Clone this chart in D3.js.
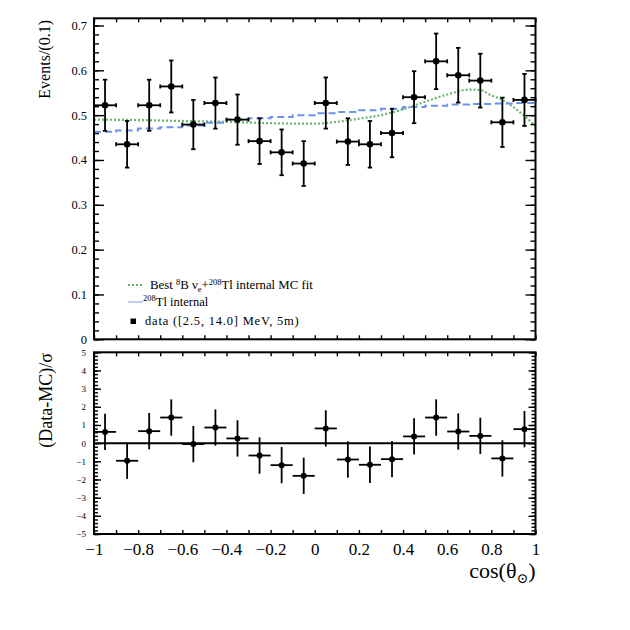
<!DOCTYPE html>
<html>
<head>
<meta charset="utf-8">
<script src="https://cdn.jsdelivr.net/npm/d3@7"></script>
<style>
  body { margin: 0; background: #fff; }
  text { font-family: 'Liberation Serif', 'DejaVu Serif', serif; fill: #000; }
</style>
</head>
<body>
<svg id="chart"></svg>
<script>
// cos(theta_sun) bins, width 0.1
const binCenters = [-0.95, -0.85, -0.75, -0.65, -0.55, -0.45, -0.35, -0.25, -0.15, -0.05,
                    0.05, 0.15, 0.25, 0.35, 0.45, 0.55, 0.65, 0.75, 0.85, 0.95];
const binHalfWidth = 0.05;

// data points (top panel)
const dataValues = [0.522, 0.435, 0.522, 0.564, 0.479, 0.527, 0.490, 0.442, 0.417, 0.392,
                    0.527, 0.441, 0.435, 0.460, 0.540, 0.620, 0.589, 0.577, 0.484, 0.534];
const dataErrors = [0.057, 0.052, 0.057, 0.058, 0.055, 0.057, 0.056, 0.051, 0.051, 0.050,
                    0.057, 0.052, 0.052, 0.054, 0.058, 0.062, 0.061, 0.060, 0.055, 0.058];

// 208Tl internal histogram
const tlValues = [0.463, 0.466, 0.470, 0.473, 0.477, 0.483, 0.490, 0.493, 0.496, 0.500,
                  0.504, 0.507, 0.511, 0.514, 0.518, 0.521, 0.524, 0.525, 0.526, 0.527];

// best fit 8B + 208Tl curve
const fitX = [-1, -0.8, -0.6, -0.4, -0.2, 0, 0.1, 0.2, 0.3, 0.4, 0.5, 0.6, 0.7, 0.75, 0.8, 0.85, 0.9, 0.95, 1];
const fitY = [0.490, 0.489, 0.487, 0.485, 0.482, 0.481, 0.485, 0.492, 0.500, 0.513, 0.530, 0.546, 0.557, 0.556, 0.544, 0.534, 0.518, 0.498, 0.476];

// residuals (bottom panel)
const pullValues = [0.62, -0.97, 0.66, 1.41, -0.05, 0.86, 0.26, -0.68, -1.21, -1.80,
                    0.81, -0.90, -1.19, -0.88, 0.37, 1.41, 0.64, 0.40, -0.84, 0.77];
const pullErrors = [1, 1, 1, 1, 1, 1, 1, 1, 1, 1, 1, 1, 1, 1, 1, 1, 1, 1, 1, 1];

// tick values
const xTicks = [-1, -0.8, -0.6, -0.4, -0.2, 0, 0.2, 0.4, 0.6, 0.8, 1];
const topYTicks = [0, 0.1, 0.2, 0.3, 0.4, 0.5, 0.6, 0.7];
const bottomYTicks = [-5, -4, -3, -2, -1, 0, 1, 2, 3, 4, 5];

const FONT = "'Liberation Serif', 'DejaVu Serif', serif";

class CosThetaChart {

  constructor(_config) {
    this.config = {
      parentElement: _config.parentElement,
      containerWidth: 630,
      containerHeight: 630,
      frameLeft: 94,
      frameRight: 535.5,
      topPanel: { top: 18.3, bottom: 339.3 },
      bottomPanel: { top: 352.3, bottom: 534 }
    };
    this.initVis();
  }

  initVis() {
    let vis = this;
    const c = vis.config;

    vis.svg = d3.select(c.parentElement)
      .attr('width', c.containerWidth)
      .attr('height', c.containerHeight);

    vis.svg.append('rect')
      .attr('width', c.containerWidth)
      .attr('height', c.containerHeight)
      .attr('fill', '#fff');

    // Scales
    vis.xScale = d3.scaleLinear().domain([-1, 1]).range([c.frameLeft, c.frameRight]);
    vis.yTop = d3.scaleLinear().domain([0, 0.716]).range([c.topPanel.bottom, c.topPanel.top]);
    vis.yBottom = d3.scaleLinear().domain([-5, 5]).range([c.bottomPanel.bottom, c.bottomPanel.top]);

    vis.renderVis();
  }

  // Ticks pointing inward on all four sides of a panel
  drawFrame(yScale, panel, yMajor, yMinor, majorLen, minorLen, fmt, labelSize, labelPad, showX) {
    let vis = this;
    const c = vis.config;

    const styleAxis = g => g
      .attr('font-family', FONT)
      .attr('font-size', labelSize)
      .call(g => g.select('.domain').remove())
      .call(g => g.selectAll('line').attr('stroke-width', 1.4));

    vis.svg.append('g')
      .attr('transform', `translate(${c.frameLeft},0)`)
      .call(d3.axisLeft(yScale).tickValues(yMinor).tickSize(-minorLen).tickFormat(''))
      .call(styleAxis);
    vis.svg.append('g')
      .attr('transform', `translate(${c.frameLeft},0)`)
      .call(d3.axisLeft(yScale).tickValues(yMajor).tickSize(-majorLen).tickPadding(labelPad).tickFormat(fmt))
      .call(styleAxis);
    vis.svg.append('g')
      .attr('transform', `translate(${c.frameRight},0)`)
      .call(d3.axisRight(yScale).tickValues(yMinor).tickSize(-minorLen).tickFormat(''))
      .call(styleAxis);
    vis.svg.append('g')
      .attr('transform', `translate(${c.frameRight},0)`)
      .call(d3.axisRight(yScale).tickValues(yMajor).tickSize(-majorLen).tickFormat(''))
      .call(styleAxis);

    const xMinor = d3.range(-10, 11).map(d => d / 10);
    vis.svg.append('g')
      .attr('transform', `translate(0,${panel.top})`)
      .call(d3.axisTop(vis.xScale).tickValues(xMinor).tickSize(-4).tickFormat(''))
      .call(styleAxis);
    vis.svg.append('g')
      .attr('transform', `translate(0,${panel.bottom})`)
      .call(d3.axisBottom(vis.xScale).tickValues(xMinor).tickSize(-4).tickFormat(''))
      .call(styleAxis);

    if (showX) {
      vis.svg.append('g')
        .attr('transform', `translate(0,${panel.bottom})`)
        .call(d3.axisBottom(vis.xScale).tickValues(xTicks).tickSize(0).tickPadding(9)
          .tickFormat(d => Number.isInteger(d) ? d3.format('d')(d) : d3.format('.1f')(d)))
        .attr('font-family', FONT)
        .attr('font-size', 17)
        .call(g => g.select('.domain').remove());
    }

    vis.svg.append('rect')
      .attr('x', c.frameLeft)
      .attr('y', panel.top)
      .attr('width', c.frameRight - c.frameLeft)
      .attr('height', panel.bottom - panel.top)
      .attr('fill', 'none')
      .attr('stroke', '#000')
      .attr('stroke-width', 2);
  }

  renderVis() {
    let vis = this;
    const c = vis.config;

    // ---- top panel ----
    const fitLine = d3.line()
      .x((d, i) => vis.xScale(fitX[i]))
      .y(d => vis.yTop(d))
      .curve(d3.curveMonotoneX);

    vis.svg.append('path')
      .datum(fitY)
      .attr('d', fitLine)
      .attr('fill', 'none')
      .attr('stroke', '#6cb36c')
      .attr('stroke-width', 2.2)
      .attr('stroke-dasharray', '2,2');

    // step histogram for 208Tl
    const tlPoints = tlValues.map((v, i) => [binCenters[i] - binHalfWidth, v]);
    tlPoints.push([1, tlValues[tlValues.length - 1]]);
    vis.svg.append('path')
      .datum(tlPoints)
      .attr('d', d3.line()
        .x(d => vis.xScale(d[0]))
        .y(d => vis.yTop(d[1]))
        .curve(d3.curveStepAfter))
      .attr('fill', 'none')
      .attr('stroke', '#6d92ee')
      .attr('stroke-width', 2)
      .attr('stroke-dasharray', '7,4');

    vis.drawFrame(vis.yTop, c.topPanel, topYTicks, d3.range(0, 36).map(d => d / 50), 10, 5,
      d => d === 0 ? '0' : d3.format('.1f')(d), 12.5, 7, false);

    const topPts = vis.svg.append('g').selectAll('.pt')
      .data(dataValues)
      .join('g')
      .attr('class', 'pt')
      .attr('stroke', '#000')
      .attr('stroke-width', 1.8);

    topPts.append('line')
      .attr('x1', (d, i) => vis.xScale(binCenters[i] - binHalfWidth))
      .attr('x2', (d, i) => vis.xScale(binCenters[i] + binHalfWidth))
      .attr('y1', d => vis.yTop(d))
      .attr('y2', d => vis.yTop(d));
    topPts.append('line')
      .attr('x1', (d, i) => vis.xScale(binCenters[i]))
      .attr('x2', (d, i) => vis.xScale(binCenters[i]))
      .attr('y1', (d, i) => vis.yTop(d + dataErrors[i]))
      .attr('y2', (d, i) => vis.yTop(d - dataErrors[i]));
    // end caps
    [-1, 1].forEach(s => {
      topPts.append('line')
        .attr('x1', (d, i) => vis.xScale(binCenters[i] + s * binHalfWidth))
        .attr('x2', (d, i) => vis.xScale(binCenters[i] + s * binHalfWidth))
        .attr('y1', d => vis.yTop(d) - 2)
        .attr('y2', d => vis.yTop(d) + 2);
      topPts.append('line')
        .attr('x1', (d, i) => vis.xScale(binCenters[i]) - 2.2)
        .attr('x2', (d, i) => vis.xScale(binCenters[i]) + 2.2)
        .attr('y1', (d, i) => vis.yTop(d + s * dataErrors[i]))
        .attr('y2', (d, i) => vis.yTop(d + s * dataErrors[i]));
    });
    topPts.append('circle')
      .attr('cx', (d, i) => vis.xScale(binCenters[i]))
      .attr('cy', d => vis.yTop(d))
      .attr('r', 3.3)
      .attr('fill', '#000')
      .attr('stroke', 'none');

    // Legend
    const legend = vis.svg.append('g');
    legend.append('line')
      .attr('x1', 128).attr('x2', 143).attr('y1', 285).attr('y2', 285)
      .attr('stroke', '#6cb36c').attr('stroke-width', 2).attr('stroke-dasharray', '2,2');
    const t1 = legend.append('text').attr('x', 150).attr('y', 289).attr('font-size', 12.8);
    t1.append('tspan').text('Best ');
    t1.append('tspan').attr('font-size', 8.5).attr('dy', -4.5).text('8');
    t1.append('tspan').attr('dy', 4.5).text('B ν');
    t1.append('tspan').attr('font-size', 8.5).attr('dy', 3).text('e');
    t1.append('tspan').attr('dy', -3).text('+');
    t1.append('tspan').attr('font-size', 8.5).attr('dy', -4.5).text('208');
    t1.append('tspan').attr('dy', 4.5).text('Tl internal MC fit');

    legend.append('line')
      .attr('x1', 128).attr('x2', 143).attr('y1', 302).attr('y2', 302)
      .attr('stroke', '#7da0f0').attr('stroke-width', 1);
    const t2 = legend.append('text').attr('x', 143).attr('y', 305.5).attr('font-size', 12.5);
    t2.append('tspan').attr('font-size', 8.5).attr('dy', -4.5).text('208');
    t2.append('tspan').attr('dy', 4.5).text('Tl internal');

    legend.append('rect')
      .attr('x', 130.5).attr('y', 318.5).attr('width', 5.5).attr('height', 5.5)
      .attr('fill', '#000');
    legend.append('text').attr('x', 145).attr('y', 324.5)
      .attr('font-size', 12.5)
      .attr('letter-spacing', 0.8)
      .text('data ([2.5, 14.0] MeV, 5m)');

    // ---- bottom panel ----
    vis.svg.append('line')
      .attr('x1', c.frameLeft).attr('x2', c.frameRight)
      .attr('y1', vis.yBottom(0)).attr('y2', vis.yBottom(0))
      .attr('stroke', '#000')
      .attr('stroke-width', 2);

    vis.drawFrame(vis.yBottom, c.bottomPanel, bottomYTicks, d3.range(-25, 26).map(d => d / 5), 7, 4,
      d => d3.format('d')(d), 9, 8, true);

    const botPts = vis.svg.append('g').selectAll('.pull')
      .data(pullValues)
      .join('g')
      .attr('class', 'pull')
      .attr('stroke', '#000')
      .attr('stroke-width', 1.8);
    botPts.append('line')
      .attr('x1', (d, i) => vis.xScale(binCenters[i] - binHalfWidth))
      .attr('x2', (d, i) => vis.xScale(binCenters[i] + binHalfWidth))
      .attr('y1', d => vis.yBottom(d))
      .attr('y2', d => vis.yBottom(d));
    botPts.append('line')
      .attr('x1', (d, i) => vis.xScale(binCenters[i]))
      .attr('x2', (d, i) => vis.xScale(binCenters[i]))
      .attr('y1', (d, i) => vis.yBottom(d + pullErrors[i]))
      .attr('y2', (d, i) => vis.yBottom(d - pullErrors[i]));
    botPts.append('circle')
      .attr('cx', (d, i) => vis.xScale(binCenters[i]))
      .attr('cy', d => vis.yBottom(d))
      .attr('r', 3)
      .attr('fill', '#000')
      .attr('stroke', 'none');

    // ---- axis titles ----
    vis.svg.append('text')
      .attr('transform', 'translate(50,20) rotate(-90)')
      .attr('text-anchor', 'end')
      .attr('font-size', 16)
      .text('Events/(0.1)');

    vis.svg.append('text')
      .attr('transform', 'translate(52,353) rotate(-90)')
      .attr('text-anchor', 'end')
      .attr('font-size', 18)
      .text('(Data-MC)/σ');

    const xt = vis.svg.append('text')
      .attr('x', c.frameRight)
      .attr('y', 578)
      .attr('text-anchor', 'end')
      .attr('font-size', 22);
    xt.append('tspan').text('cos(θ');
    xt.append('tspan').attr('font-size', 14).attr('dy', 5).text('⊙');
    xt.append('tspan').attr('dy', -5).text(')');
  }
}

const chart = new CosThetaChart({ parentElement: '#chart' });
</script>
</body>
</html>
